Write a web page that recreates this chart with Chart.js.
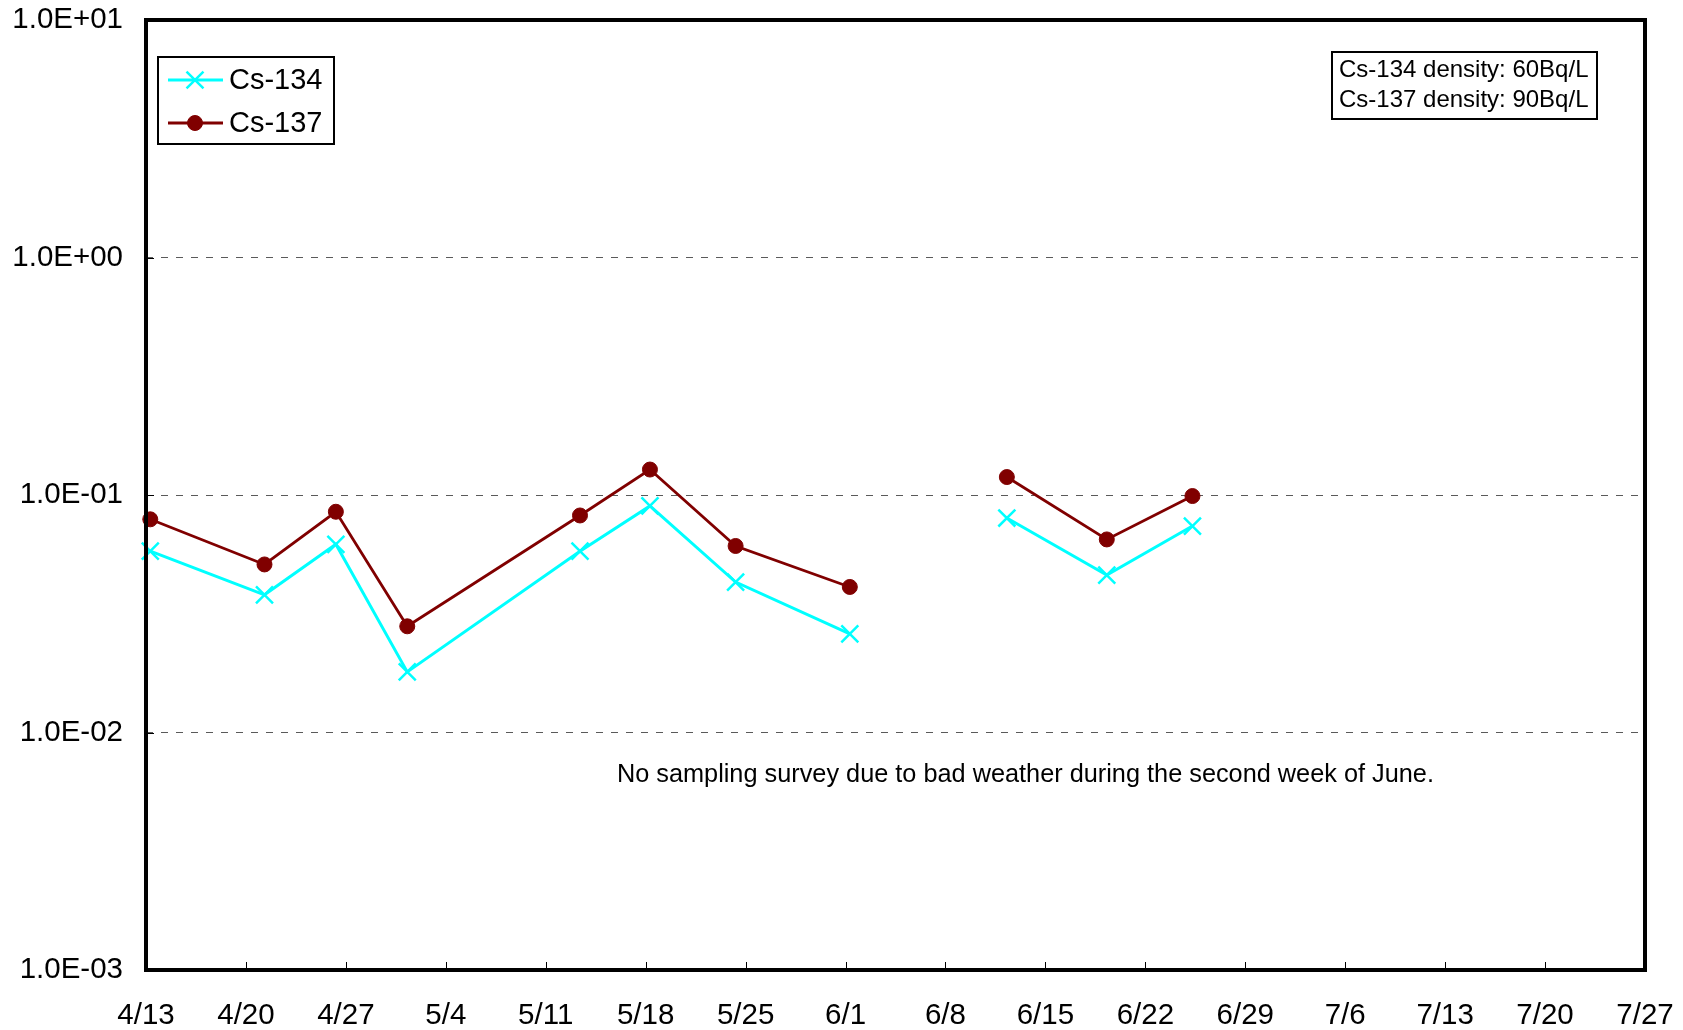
<!DOCTYPE html>
<html>
<head>
<meta charset="utf-8">
<script src="https://cdn.jsdelivr.net/npm/chart.js@4.4.1/dist/chart.umd.min.js"></script>
<style>
  html, body { margin: 0; padding: 0; background: #fff; }
  #wrap { width: 1683px; height: 1030px; }
</style>
</head>
<body>
<div id="wrap"><canvas id="c" width="1683" height="1030"></canvas></div>
<script>
// x axis: days since 4/13, one tick per week
var tickDays = [0, 7, 14, 21, 28, 35, 42, 49, 56, 63, 70, 77, 84, 91, 98, 105];
var tickLabels = ["4/13", "4/20", "4/27", "5/4", "5/11", "5/18", "5/25", "6/1",
                  "6/8", "6/15", "6/22", "6/29", "7/6", "7/13", "7/20", "7/27"];
var yTickValues = [0.001, 0.01, 0.1, 1, 10];
var yTickLabels = ["1.0E-03", "1.0E-02", "1.0E-01", "1.0E+00", "1.0E+01"];

// sampling days (null values = no survey, 2nd week of June)
var sampleDays = [0.3, 8.3, 13.3, 18.3, 30.4, 35.3, 41.3, 49.3, 55, 60.3, 67.3, 73.3];
var cs134 = [0.058, 0.038, 0.062, 0.018, 0.058, 0.090, 0.043, 0.026, null, 0.080, 0.046, 0.074];
var cs137 = [0.079, 0.051, 0.085, 0.028, 0.082, 0.128, 0.061, 0.041, null, 0.119, 0.065, 0.099];

var noteText = "No sampling survey due to bad weather during the second week of June.";
var noteAt = { x: 61.6, y: 0.0066 };
var boxLines = ["Cs-134 density: 60Bq/L", "Cs-137 density: 90Bq/L"];

var FONT = '"Liberation Sans", Arial, sans-serif';

function pts(vals) {
  return sampleDays.map(function (d, i) { return { x: d, y: vals[i] }; });
}

var decorations = {
  id: "decorations",
  afterDraw: function (chart) {
    var ctx = chart.ctx, a = chart.chartArea;
    var xs = chart.scales.x, ys = chart.scales.y;
    ctx.save();

    // inward week ticks on the bottom axis, short ticks at y gridlines
    ctx.strokeStyle = "#000";
    ctx.lineWidth = 1;
    tickDays.forEach(function (d) {
      var px = Math.round(xs.getPixelForValue(d)) + 0.5;
      ctx.beginPath();
      ctx.moveTo(px, a.bottom);
      ctx.lineTo(px, a.bottom - 8);
      ctx.stroke();
    });
    yTickValues.forEach(function (v) {
      var py = Math.round(ys.getPixelForValue(v)) + 0.5;
      ctx.beginPath();
      ctx.moveTo(a.left, py);
      ctx.lineTo(a.left + 8, py);
      ctx.stroke();
    });

    // heavy plot frame
    ctx.lineWidth = 4;
    ctx.strokeRect(a.left, a.top, a.right - a.left, a.bottom - a.top);

    // note under the gap
    ctx.fillStyle = "#000";
    ctx.font = "25.3px " + FONT;
    ctx.textAlign = "center";
    ctx.textBaseline = "middle";
    ctx.fillText(noteText, xs.getPixelForValue(noteAt.x), ys.getPixelForValue(noteAt.y));

    // density box, top right
    ctx.font = "24px " + FONT;
    ctx.textAlign = "left";
    var bw = 265, bh = 67;
    var bx = a.right - 48 - bw, by = a.top + 32;
    ctx.fillStyle = "#fff";
    ctx.fillRect(bx, by, bw, bh);
    ctx.lineWidth = 2;
    ctx.strokeStyle = "#000";
    ctx.strokeRect(bx, by, bw, bh);
    ctx.fillStyle = "#000";
    boxLines.forEach(function (t, i) {
      ctx.fillText(t, bx + 7, by + 18 + i * 30);
    });

    // legend, top left
    var lx = a.left + 12, ly = a.top + 37, lw = 176, lh = 87;
    ctx.fillStyle = "#fff";
    ctx.fillRect(lx, ly, lw, lh);
    ctx.strokeRect(lx, ly, lw, lh);
    chart.data.datasets.forEach(function (ds, i) {
      var cy = ly + 23 + i * 43;
      ctx.strokeStyle = ds.borderColor;
      ctx.fillStyle = ds.borderColor;
      ctx.lineWidth = ds.borderWidth;
      ctx.beginPath();
      ctx.moveTo(lx + 10, cy);
      ctx.lineTo(lx + 65, cy);
      ctx.stroke();
      ctx.lineWidth = ds.pointBorderWidth;
      Chart.helpers.drawPoint(ctx, {
        pointStyle: ds.pointStyle, radius: ds.pointRadius, rotation: 0,
        borderWidth: ds.pointBorderWidth
      }, lx + 37, cy);
      ctx.fillStyle = "#000";
      ctx.font = "29px " + FONT;
      ctx.textBaseline = "middle";
      ctx.fillText(ds.label, lx + 71, cy + 1);
    });
    ctx.restore();
  }
};

new Chart(document.getElementById("c").getContext("2d"), {
  type: "line",
  data: {
    datasets: [
      {
        label: "Cs-134",
        data: pts(cs134),
        borderColor: "#00FFFF",
        backgroundColor: "#00FFFF",
        pointStyle: "crossRot",
        pointRadius: 12,
        pointBorderWidth: 2.5,
        pointBorderColor: "#00FFFF",
        borderWidth: 3,
        spanGaps: false,
        clip: false
      },
      {
        label: "Cs-137",
        data: pts(cs137),
        borderColor: "#800000",
        backgroundColor: "#800000",
        pointStyle: "circle",
        pointRadius: 7.5,
        pointBorderWidth: 1,
        pointBorderColor: "#800000",
        borderWidth: 2.8,
        spanGaps: false,
        clip: false
      }
    ]
  },
  options: {
    responsive: false,
    animation: false,
    layout: { padding: { top: 20, right: 38, left: 0, bottom: 0 } },
    scales: {
      x: {
        type: "linear",
        min: 0,
        max: 105,
        afterBuildTicks: function (s) {
          s.ticks = tickDays.map(function (d) { return { value: d }; });
        },
        afterFit: function (s) {
          s.height = 60;
          s.paddingLeft = 0; s.paddingRight = 0;
        },
        ticks: {
          color: "#000",
          font: { family: FONT, size: 29.5 },
          padding: 20,
          maxRotation: 0,
          autoSkip: false,
          callback: function (v) { return tickLabels[tickDays.indexOf(v)]; }
        },
        grid: { display: false },
        border: { display: false }
      },
      y: {
        type: "logarithmic",
        min: 0.001,
        max: 10,
        afterBuildTicks: function (s) {
          s.ticks = yTickValues.map(function (v) { return { value: v }; });
        },
        afterFit: function (s) {
          s.width = 146;
          s.paddingTop = 0; s.paddingBottom = 0;
        },
        ticks: {
          color: "#000",
          font: { family: FONT, size: 29.5 },
          padding: 23,
          autoSkip: false,
          callback: function (v) { return yTickLabels[yTickValues.indexOf(v)]; }
        },
        grid: { color: "#5a5a5a", lineWidth: 1, drawTicks: false },
        border: { display: false, dash: [7, 8] }
      }
    },
    plugins: {
      legend: { display: false },
      tooltip: { enabled: false }
    }
  },
  plugins: [decorations]
});
</script>
</body>
</html>
